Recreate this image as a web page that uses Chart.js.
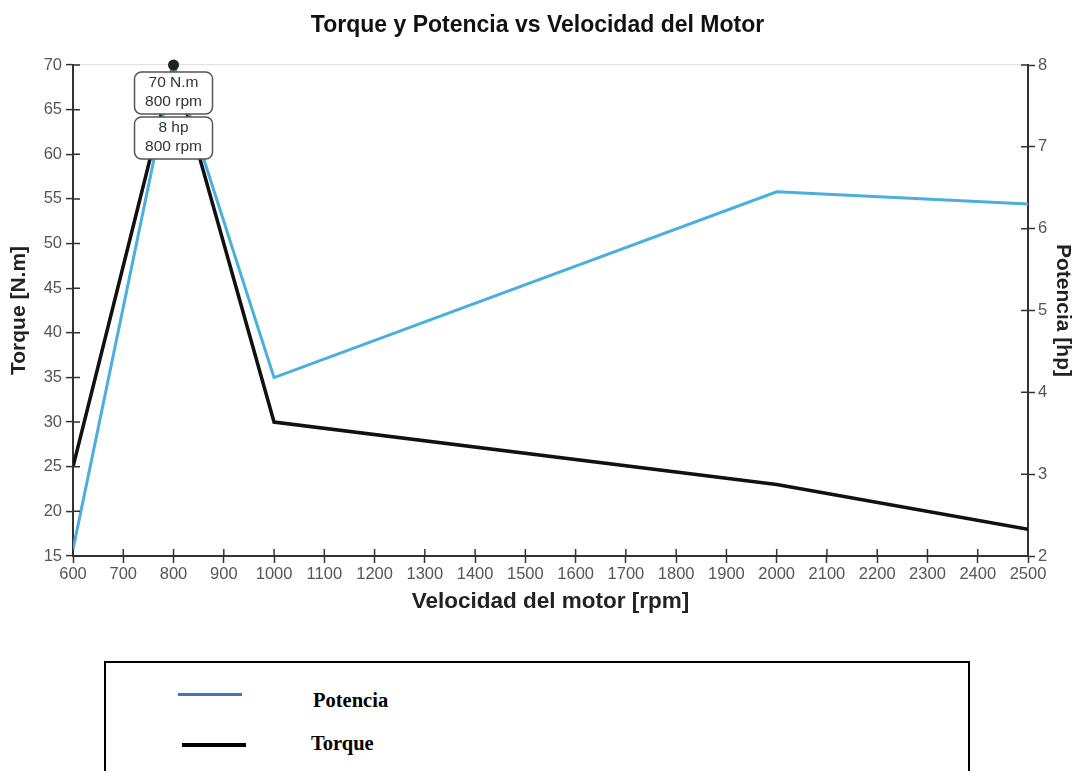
<!DOCTYPE html>
<html>
<head>
<meta charset="utf-8">
<script src="https://cdn.jsdelivr.net/npm/chart.js@4.4.1/dist/chart.umd.min.js"></script>
<style>
  html, body { margin: 0; padding: 0; background: #fff; }
  body { width: 1075px; height: 771px; position: relative; overflow: hidden; }
  #wrap { position: absolute; left: 0; top: 0; width: 1075px; height: 620px; }
  #legend {
    position: absolute; left: 104px; top: 661px; width: 862px; height: 130px;
    border: 2px solid #000; box-sizing: content-box;
    font-family: "Liberation Serif", "Times New Roman", serif; font-weight: bold; font-size: 20.5px; color: #000;
    line-height: 24px;
  }
  .swatch { position: absolute; }
  .lbl { position: absolute; white-space: nowrap; }
</style>
</head>
<body>
<div id="wrap"><canvas id="chart"></canvas></div>
<div id="legend"></div>
<script>
// Engine speed (rpm)
const rpm = [600, 800, 1000, 2000, 2500];
// Torque in N.m at each speed
const torque = [25, 70, 30, 23, 18];
// Power in hp at each speed
const power = [2.08, 8, 4.18, 6.45, 6.3];

const xTicks = { min: 600, max: 2500, step: 100 };
const torqueTicks = { min: 15, max: 70, step: 5 };
const powerTicks = { min: 2, max: 8, step: 1 };

const seriesNames = ['Potencia', 'Torque'];
const seriesColors = ['#4aaede', '#111111'];
const legendColors = ['#4472c4', '#000000'];

const peakIdx = torque.indexOf(Math.max(...torque));
const powerPeakIdx = power.indexOf(Math.max(...power));

// Axis ticks that cross the axis line (inner half drawn here)
const crossTicks = {
  id: 'crossTicks',
  afterDraw(chart) {
    const ctx = chart.ctx;
    const { x, y, y1 } = chart.scales;
    ctx.save();
    ctx.strokeStyle = '#333';
    ctx.lineWidth = 1.5;
    ctx.beginPath();
    x.ticks.forEach(t => {
      const px = x.getPixelForValue(t.value);
      ctx.moveTo(px, x.top); ctx.lineTo(px, x.top - 7);
    });
    y.ticks.forEach(t => {
      const py = y.getPixelForValue(t.value);
      ctx.moveTo(y.right, py); ctx.lineTo(y.right + 7, py);
    });
    y1.ticks.forEach(t => {
      const py = y1.getPixelForValue(t.value);
      ctx.moveTo(y1.left, py); ctx.lineTo(y1.left - 7, py);
    });
    ctx.stroke();
    ctx.restore();
  }
};

// Callout boxes at the peak values
const peakLabels = {
  id: 'peakLabels',
  afterDatasetsDraw(chart) {
    const ctx = chart.ctx;
    const { x, y } = chart.scales;
    const cx = x.getPixelForValue(rpm[peakIdx]);
    const py = y.getPixelForValue(torque[peakIdx]);
    const boxes = [
      [torque[peakIdx] + ' N.m', rpm[peakIdx] + ' rpm'],
      [power[powerPeakIdx] + ' hp', rpm[powerPeakIdx] + ' rpm']
    ];
    const w = 78, h = 42, gap = 3;
    let top = py + 7;
    ctx.save();
    ctx.font = '15.5px "Liberation Sans", Arial, sans-serif';
    ctx.textAlign = 'center';
    ctx.textBaseline = 'middle';
    boxes.forEach(lines => {
      ctx.beginPath();
      ctx.roundRect(cx - w / 2, top, w, h, 7);
      ctx.fillStyle = '#fff';
      ctx.fill();
      ctx.lineWidth = 1.5;
      ctx.strokeStyle = '#555';
      ctx.stroke();
      ctx.fillStyle = '#333';
      ctx.fillText(lines[0], cx, top + 11);
      ctx.fillText(lines[1], cx, top + 30);
      top += h + gap;
    });
    // peak marker
    ctx.beginPath();
    ctx.arc(cx, py, 5.5, 0, Math.PI * 2);
    ctx.fillStyle = '#222';
    ctx.fill();
    ctx.restore();
  }
};

const tickFont = { family: '"Liberation Sans", Arial, sans-serif', size: 16.5 };
const axisTitleFont = { family: '"Liberation Sans", Arial, sans-serif', size: 21, weight: 'bold' };

new Chart(document.getElementById('chart'), {
  type: 'line',
  data: {
    datasets: [
      {
        label: seriesNames[0],
        data: rpm.map((r, i) => ({ x: r, y: power[i] })),
        yAxisID: 'y1',
        borderColor: seriesColors[0],
        borderWidth: 3,
        pointRadius: 0,
        tension: 0
      },
      {
        label: seriesNames[1],
        data: rpm.map((r, i) => ({ x: r, y: torque[i] })),
        yAxisID: 'y',
        borderColor: seriesColors[1],
        borderWidth: 3.5,
        pointRadius: 0,
        tension: 0
      }
    ]
  },
  options: {
    responsive: true,
    maintainAspectRatio: false,
    animation: false,
    layout: { padding: 0 },
    plugins: {
      legend: { display: false },
      tooltip: { enabled: false },
      title: {
        display: true,
        text: 'Torque y Potencia vs Velocidad del Motor',
        color: '#111',
        font: { family: '"Liberation Sans", Arial, sans-serif', size: 23, weight: 'bold' },
        padding: { top: 12, bottom: 25.4 }
      }
    },
    scales: {
      x: {
        type: 'linear',
        min: xTicks.min, max: xTicks.max,
        afterFit: s => { s.height = 64; },
        ticks: { stepSize: xTicks.step, color: '#555', font: tickFont, padding: 2, maxRotation: 0, autoSkip: false,
                 callback: v => String(v) },
        grid: { display: true, drawOnChartArea: false, tickLength: 7, tickColor: '#333', tickWidth: 1.5 },
        border: { color: '#333', width: 2 },
        title: { display: true, text: 'Velocidad del motor [rpm]', color: '#222',
                 font: { family: '"Liberation Sans", Arial, sans-serif', size: 22.5, weight: 'bold' },
                 padding: { top: 5, bottom: 5 } }
      },
      y: {
        position: 'left',
        min: torqueTicks.min, max: torqueTicks.max,
        afterFit: s => { s.width = 73; },
        ticks: { stepSize: torqueTicks.step, color: '#555', font: tickFont, padding: 4 },
        grid: {
          color: c => (c.tick && c.tick.value === torqueTicks.max) ? '#e2e2e2' : 'rgba(0,0,0,0)',
          lineWidth: 1.2, tickLength: 7, tickColor: '#333', tickWidth: 1.5
        },
        border: { color: '#333', width: 2 },
        title: { display: true, text: 'Torque [N.m]', color: '#222', font: axisTitleFont, padding: { top: 7, bottom: 0 } }
      },
      y1: {
        position: 'right',
        min: powerTicks.min, max: powerTicks.max,
        afterFit: s => { s.width = 47; },
        ticks: { stepSize: powerTicks.step, color: '#555', font: tickFont, padding: 3 },
        grid: { drawOnChartArea: false, tickLength: 7, tickColor: '#333', tickWidth: 1.5 },
        border: { color: '#333', width: 2 },
        title: { display: true, text: 'Potencia [hp]', color: '#222', font: axisTitleFont, padding: { top: 0, bottom: 0 } }
      }
    }
  },
  plugins: [crossTicks, peakLabels]
});

// Legend panel below the chart
const legend = document.getElementById('legend');
const legendRows = [
  { sx: 72, sy: 30, sw: 64, sh: 3, lx: 207, ly: 25 },
  { sx: 76, sy: 80, sw: 64, sh: 4, lx: 205, ly: 68 }
];
seriesNames.forEach((name, i) => {
  const r = legendRows[i];
  const sw = document.createElement('div');
  sw.className = 'swatch';
  sw.style.cssText = `left:${r.sx}px;top:${r.sy}px;width:${r.sw}px;height:${r.sh}px;background:${legendColors[i]};`;
  const lb = document.createElement('div');
  lb.className = 'lbl';
  lb.style.cssText = `left:${r.lx}px;top:${r.ly}px;`;
  lb.textContent = name;
  legend.appendChild(sw);
  legend.appendChild(lb);
});
</script>
</body>
</html>
